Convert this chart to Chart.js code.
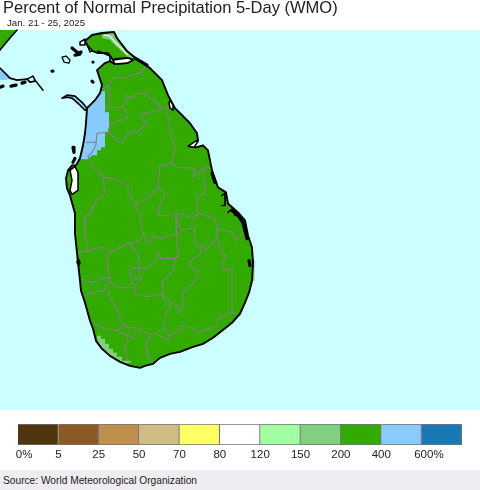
<!DOCTYPE html>
<html><head><meta charset="utf-8">
<script src="https://cdn.jsdelivr.net/npm/chart.js@4"></script>
<style>
html,body{margin:0;padding:0;background:#fff;overflow:hidden}
#wrap{position:relative;width:480px;height:490px}
canvas{position:absolute;left:0}
#map{top:0}
#bar{top:410px}
#src{position:absolute;left:0;top:470px;width:480px;height:20px;background:#efedf1;font:10.2px/22px "Liberation Sans",sans-serif;color:#222;padding-left:3px;box-sizing:border-box}
</style></head><body>
<div id="wrap">
<canvas id="map" width="480" height="410"></canvas>
<canvas id="bar" width="480" height="60"></canvas>
<div id="src">Source: World Meteorological Organization</div>
</div>
<script>
// ---- text ----
const titleText = "Percent of Normal Precipitation 5-Day (WMO)";
const dateText = "Jan. 21 - 25, 2025";

// ---- colour classes of the key ----
const classColors = ["#4f3510","#8a5a22","#bf904d","#cfbd85","#ffff66","#ffffff","#a0ffa0","#80d080","#33aa00","#88ccff","#1a78b4"];
const tickLabels = ["0%","5","25","50","70","80","120","150","200","400","600%"];
const tickValues = [0.15,1,2,3,4,5,6,7,8,9,10.18];

// ---- outlines, in map units (x, y) ----
const island = [[79.87,9.52],[79.95,9.60],[80.00,9.67],[80.02,9.75],[79.97,9.90],[80.05,9.97],[80.10,9.99],[80.15,9.96],[80.27,9.97],[80.33,10.00],[80.28,10.02],[80.15,10.01],[80.13,10.00],[80.08,10.07],[79.98,10.07],[79.90,10.10],[79.85,10.19],[79.92,10.25],[80.02,10.27],[80.14,10.28],[80.17,10.22],[80.27,10.09],[80.38,10.00],[80.50,9.92],[80.62,9.80],[80.68,9.65],[80.75,9.52],[80.90,9.37],[80.97,9.27],[80.98,9.20],[80.90,9.14],[80.96,9.13],[81.03,9.15],[81.08,9.10],[81.12,8.90],[81.18,8.73],[81.26,8.68],[81.28,8.57],[81.38,8.48],[81.45,8.40],[81.48,8.25],[81.52,8.13],[81.53,7.98],[81.52,7.80],[81.49,7.68],[81.45,7.58],[81.40,7.47],[81.32,7.38],[81.22,7.30],[81.13,7.23],[81.03,7.17],[80.93,7.14],[80.80,7.09],[80.70,7.07],[80.60,7.03],[80.53,6.97],[80.45,6.95],[80.40,6.93],[80.30,6.95],[80.20,6.99],[80.10,7.05],[80.02,7.12],[79.96,7.20],[79.93,7.32],[79.90,7.40],[79.85,7.58],[79.81,7.70],[79.80,7.80],[79.78,7.98],[79.75,8.27],[79.75,8.47],[79.70,8.65],[79.67,8.72],[79.66,8.82],[79.68,8.90],[79.72,8.95],[79.76,8.95],[79.80,9.02],[79.83,9.15],[79.85,9.27],[79.86,9.37],[79.87,9.52]];
const indiaGreen = [[79.00,10.30],[79.17,10.30],[79.10,10.22],[79.00,10.10],[79.00,10.30]];
const indiaBlue = [[79.00,9.91],[79.07,9.85],[79.13,9.81],[79.00,9.80],[79.00,9.91]];
const mannarSpit = [[79.62,9.62],[79.67,9.65],[79.75,9.64],[79.83,9.57],[79.87,9.52],[79.85,9.50],[79.80,9.55],[79.72,9.62],[79.67,9.63],[79.62,9.62]];
const wetterPatch = [[80.00,9.69],[80.05,9.69],[80.05,9.48],[80.09,9.48],[80.09,9.28],[80.05,9.28],[80.05,9.13],[80.01,9.13],[80.01,9.10],[79.97,9.10],[79.97,9.05],[79.92,9.05],[79.88,9.01],[79.80,9.01],[79.83,9.15],[79.85,9.27],[79.86,9.37],[79.87,9.52],[79.95,9.60],[80.00,9.69]];
const southPatch = [[79.97,7.25],[80.01,7.25],[80.01,7.22],[80.05,7.22],[80.05,7.17],[80.09,7.17],[80.09,7.12],[80.13,7.12],[80.13,7.08],[80.17,7.08],[80.17,7.04],[80.22,7.04],[80.22,7.00],[80.30,7.00],[80.32,6.99],[80.25,6.97],[80.17,7.00],[80.08,7.07],[80.00,7.15],[79.97,7.22],[79.97,7.25]];
const northPatch = [[80.02,10.25],[80.14,10.28],[80.17,10.20],[80.27,10.08],[80.34,10.02],[80.28,10.03],[80.17,10.13],[80.10,10.20],[80.02,10.22],[80.02,10.25]];
const northStrip = [[80.04,10.25],[80.10,10.24],[80.14,10.19],[80.27,10.06]];
const eastSliver = [[81.53,8.03],[81.545,8.00],[81.545,7.80],[81.52,7.80],[81.53,8.03]];
const lagoons = [
 [[80.13,10.00],[80.28,10.02],[80.33,10.00],[80.27,9.97],[80.15,9.96],[80.13,10.00]],
 [[79.70,8.90],[79.75,8.94],[79.78,8.88],[79.78,8.70],[79.72,8.66],[79.70,8.70],[79.72,8.80],[79.70,8.90]],
 [[80.88,9.14],[80.95,9.19],[80.98,9.19],[80.94,9.13],[80.88,9.14]],
 [[80.70,9.60],[80.73,9.55],[80.73,9.50],[80.70,9.52],[80.69,9.57],[80.70,9.60]],
 [[79.80,10.18],[79.85,10.21],[79.85,10.15],[79.80,10.15],[79.80,10.18]],
 [[79.88,10.14],[79.92,10.10],[79.90,10.08],[79.88,10.14]]
];
const seaIslet = [[79.62,10.03],[79.66,10.04],[79.70,10.00],[79.69,9.97],[79.64,9.98],[79.62,10.03]];
const thinShore = [
 [[79.17,10.30],[79.10,10.22],[79.00,10.10]],
 [[79.00,9.92],[79.07,9.85],[79.10,9.82],[79.17,9.80],[79.27,9.81],[79.33,9.84],[79.35,9.80],[79.43,9.70]],
 [[79.27,9.81],[79.30,9.78],[79.35,9.79]],
 [[79.98,10.09],[80.10,10.04],[80.10,9.99]],
 [[81.28,8.48],[81.33,8.52],[81.35,8.45]],
 [[81.22,8.65],[81.25,8.67],[81.25,8.55],[81.22,8.55]],
 [[79.78,8.02],[79.80,7.98],[79.79,7.95],[79.77,7.98],[79.78,8.02]]
];
const thickShore = [
 [[79.72,10.12],[79.78,10.07],[79.81,10.08],[79.75,10.05],[79.80,10.06]],
 [[81.32,8.50],[81.38,8.45],[81.43,8.38],[81.45,8.30],[81.47,8.22]],
 [[81.12,8.87],[81.15,8.78]],
 [[81.49,8.00],[81.50,7.95]],
 [[80.35,10.02],[80.47,9.95]],
 [[79.00,9.73],[79.03,9.74]],[[79.11,9.74],[79.16,9.75]],[[79.22,9.77],[79.25,9.78]],
 [[79.52,9.89],[79.53,9.89]],[[79.92,9.79],[79.93,9.78]],[[79.93,9.98],[79.94,9.98]],
 [[79.73,9.13],[79.74,9.08]],[[79.75,9.02],[79.73,8.98]]
];
const districtLines = [
 [[80.45,9.94],[80.42,9.88],[80.32,9.85],[80.25,9.82],[80.15,9.83],[80.10,9.78],[80.08,9.70],[80.10,9.62],[80.07,9.52]],
 [[80.02,9.70],[80.08,9.75]],
 [[80.07,9.52],[80.22,9.53],[80.27,9.58],[80.26,9.65],[80.32,9.62],[80.35,9.66],[80.47,9.67],[80.50,9.62],[80.57,9.58],[80.60,9.53],[80.70,9.53]],
 [[80.22,9.53],[80.27,9.47],[80.27,9.42],[80.10,9.37]],
 [[80.10,9.37],[80.08,9.28],[80.15,9.22],[80.18,9.18],[80.23,9.20],[80.30,9.28],[80.36,9.28],[80.47,9.37],[80.40,9.43],[80.45,9.47],[80.60,9.50],[80.60,9.53]],
 [[79.87,9.18],[79.96,9.18],[79.97,9.27],[80.08,9.28]],
 [[79.96,9.18],[79.96,9.15],[79.92,9.08],[79.88,9.04]],
 [[79.88,9.04],[79.93,8.92],[80.00,8.88],[80.03,8.83],[80.12,8.82],[80.23,8.78],[80.28,8.75],[80.28,8.67],[80.33,8.62],[80.35,8.55],[80.40,8.47],[80.42,8.32],[80.45,8.22],[80.50,8.18],[80.53,8.25],[80.57,8.23],[80.60,8.22],[80.70,8.25],[80.80,8.27]],
 [[80.03,8.83],[80.05,8.68],[79.95,8.58],[79.90,8.47],[79.84,8.42],[79.85,8.27],[79.88,8.10],[79.78,8.08]],
 [[80.35,8.55],[80.47,8.62],[80.58,8.72],[80.65,8.67],[80.60,8.55],[80.57,8.45],[80.67,8.45],[80.77,8.47],[80.95,8.42],[80.98,8.48]],
 [[80.58,8.72],[80.60,8.94],[80.72,8.98],[80.75,9.12],[80.70,9.30],[80.67,9.50],[80.67,9.53]],
 [[80.72,8.98],[80.77,8.93],[80.95,8.92],[80.93,8.83],[81.03,8.92],[81.12,8.93]],
 [[81.03,8.92],[81.05,8.67],[80.97,8.64],[80.97,8.48]],
 [[80.97,8.48],[81.15,8.42],[81.17,8.32],[81.33,8.28],[81.35,8.20],[81.43,8.27]],
 [[79.80,8.08],[79.90,8.10],[79.95,8.12],[80.03,8.13],[80.10,8.08],[80.22,8.14],[80.28,8.18],[80.33,8.17],[80.42,8.22]],
 [[79.80,7.82],[79.93,7.78],[80.00,7.82],[80.10,7.83],[80.07,7.92],[80.08,7.97],[80.07,8.02],[80.10,8.08]],
 [[80.28,8.18],[80.37,8.07],[80.40,7.98],[80.38,7.92],[80.48,7.93],[80.58,8.02],[80.57,8.08],[80.62,8.02],[80.73,8.02],[80.80,8.05]],
 [[80.76,8.47],[80.76,8.40],[80.77,8.17],[80.79,8.07],[80.75,8.02],[80.73,7.90],[80.63,7.80],[80.62,7.70],[80.63,7.65]],
 [[80.32,7.93],[80.38,7.92]],
 [[80.32,7.93],[80.30,7.87],[80.32,7.78],[80.35,7.75],[80.35,7.67],[80.47,7.64],[80.62,7.67]],
 [[80.32,7.84],[80.41,7.80],[80.38,7.92]],
 [[80.10,7.83],[80.10,7.78],[80.20,7.73],[80.34,7.73]],
 [[79.83,7.65],[79.93,7.68],[80.03,7.70],[80.10,7.78]],
 [[80.08,7.70],[80.10,7.62],[80.17,7.53],[80.20,7.43],[80.27,7.33],[80.38,7.33],[80.48,7.27],[80.57,7.27],[80.68,7.20],[80.73,7.27],[80.78,7.28],[80.80,7.35],[80.93,7.33],[80.98,7.28],[81.18,7.35],[81.18,7.43],[81.32,7.48],[81.37,7.47]],
 [[79.93,7.37],[80.05,7.32],[80.17,7.30],[80.25,7.36]],
 [[80.17,7.30],[80.25,7.27],[80.28,7.20],[80.25,7.15],[80.28,7.00]],
 [[80.25,7.27],[80.33,7.23],[80.35,7.32]],
 [[80.48,7.27],[80.50,7.23],[80.45,7.17],[80.50,7.00],[80.53,6.98]],
 [[80.63,7.33],[80.67,7.50],[80.72,7.58],[80.77,7.55],[80.78,7.48],[80.83,7.53],[80.83,7.68],[80.98,7.82],[80.98,7.90],[80.88,7.97],[80.95,8.03],[81.00,8.07],[81.02,8.15],[80.95,8.18],[80.95,8.33],[80.82,8.30],[80.77,8.40]],
 [[80.63,7.33],[80.70,7.25]],
 [[80.62,7.67],[80.63,7.62],[80.72,7.58]],
 [[81.02,8.15],[81.05,8.10],[81.17,8.23],[81.20,8.13],[81.25,8.05],[81.22,7.93],[81.32,7.90],[81.32,7.48]],
 [[81.17,8.23],[81.17,8.32]]
];

// ---- drawing ----
const OCEAN="#ccffff", LAND=classColors[8], BLUE=classColors[9], PALE=classColors[7], INK="#000000", GREY="#808080";
const FONT='"Liberation Sans", sans-serif';
const layer=(pts,o)=>({data:pts.map(p=>({x:p[0],y:p[1]})),showLine:true,pointRadius:0,tension:0,clip:false,
  fill:o.fill?'shape':false,backgroundColor:o.fill||'transparent',borderColor:o.line||'transparent',borderWidth:o.width||0,borderJoinStyle:'round',borderCapStyle:'round'});
const layers=[
 layer(indiaGreen,{fill:LAND}),
 layer(indiaBlue,{fill:BLUE}),
 layer(eastSliver,{fill:PALE}),
 layer(island,{fill:LAND}),
 layer(wetterPatch,{fill:BLUE}),
 layer(southPatch,{fill:PALE}),
 layer(northPatch,{fill:PALE}),
 layer(northStrip,{line:"#ffffff",width:1.2}),
 layer(mannarSpit,{fill:BLUE,line:INK,width:1.6}),
 ...districtLines.map(l=>layer(l,{line:GREY,width:1.1})),
 layer(island,{line:INK,width:1.9}),
 layer(seaIslet,{line:INK,width:1.3}),
 ...lagoons.map(l=>layer(l,{fill:"#ffffff",line:INK,width:1.5})),
 ...thinShore.map(l=>layer(l,{line:INK,width:1.6})),
 ...thickShore.map(l=>layer(l,{line:INK,width:3.2}))
];
layers.reverse(); // Chart.js paints the first dataset last

const oceanBack={id:'oceanBack',beforeDraw(c){const a=c.chartArea,x=c.ctx;x.save();x.fillStyle=OCEAN;x.fillRect(a.left,a.top,a.width,a.height);x.restore();}};
const textInset={id:'textInset',afterLayout(c){c.boxes.forEach(b=>{const t=b.options&&b.options.text;if(t===titleText)b.left=3;if(t===dateText)b.left=7;});}};

new Chart(document.getElementById('map'),{
 type:'scatter',
 data:{datasets:layers},
 plugins:[oceanBack,textInset],
 options:{responsive:false,animation:false,devicePixelRatio:1,events:[],
  layout:{padding:0},
  scales:{x:{type:'linear',display:false,min:79,max:83.8},y:{type:'linear',display:false,min:6.51,max:10.3}},
  plugins:{legend:{display:false},tooltip:{enabled:false},
   title:{display:true,text:titleText,align:'start',color:'#222',padding:0,font:{family:FONT,size:16.5,weight:'normal',lineHeight:1.03}},
   subtitle:{display:true,text:dateText,align:'start',color:'#222',padding:0,font:{family:FONT,size:9.7,weight:'normal',lineHeight:1.34}}
  }}
});

new Chart(document.getElementById('bar'),{
 type:'bar',
 data:{labels:['key'],datasets:classColors.map(c=>({data:[1],backgroundColor:c,borderColor:'#757575',borderWidth:1.2,barPercentage:1,categoryPercentage:1,stack:'k'}))},
 options:{indexAxis:'y',responsive:false,animation:false,devicePixelRatio:1,events:[],
  layout:{padding:{left:18,right:18,top:14,bottom:0}},
  scales:{
   y:{display:false,stacked:true},
   x:{type:'linear',stacked:true,min:0,max:11,
      afterFit(s){s.height=25;},
      afterBuildTicks(s){s.ticks=tickValues.map(v=>({value:v}));},
      grid:{display:false,drawTicks:false},border:{display:false},
      ticks:{autoSkip:false,maxRotation:0,minRotation:0,padding:3,color:'#222',font:{family:FONT,size:11.5},
        callback(v){return tickLabels[tickValues.indexOf(v)];}}}
  },
  plugins:{legend:{display:false},tooltip:{enabled:false}}}
});
</script>
</body></html>
